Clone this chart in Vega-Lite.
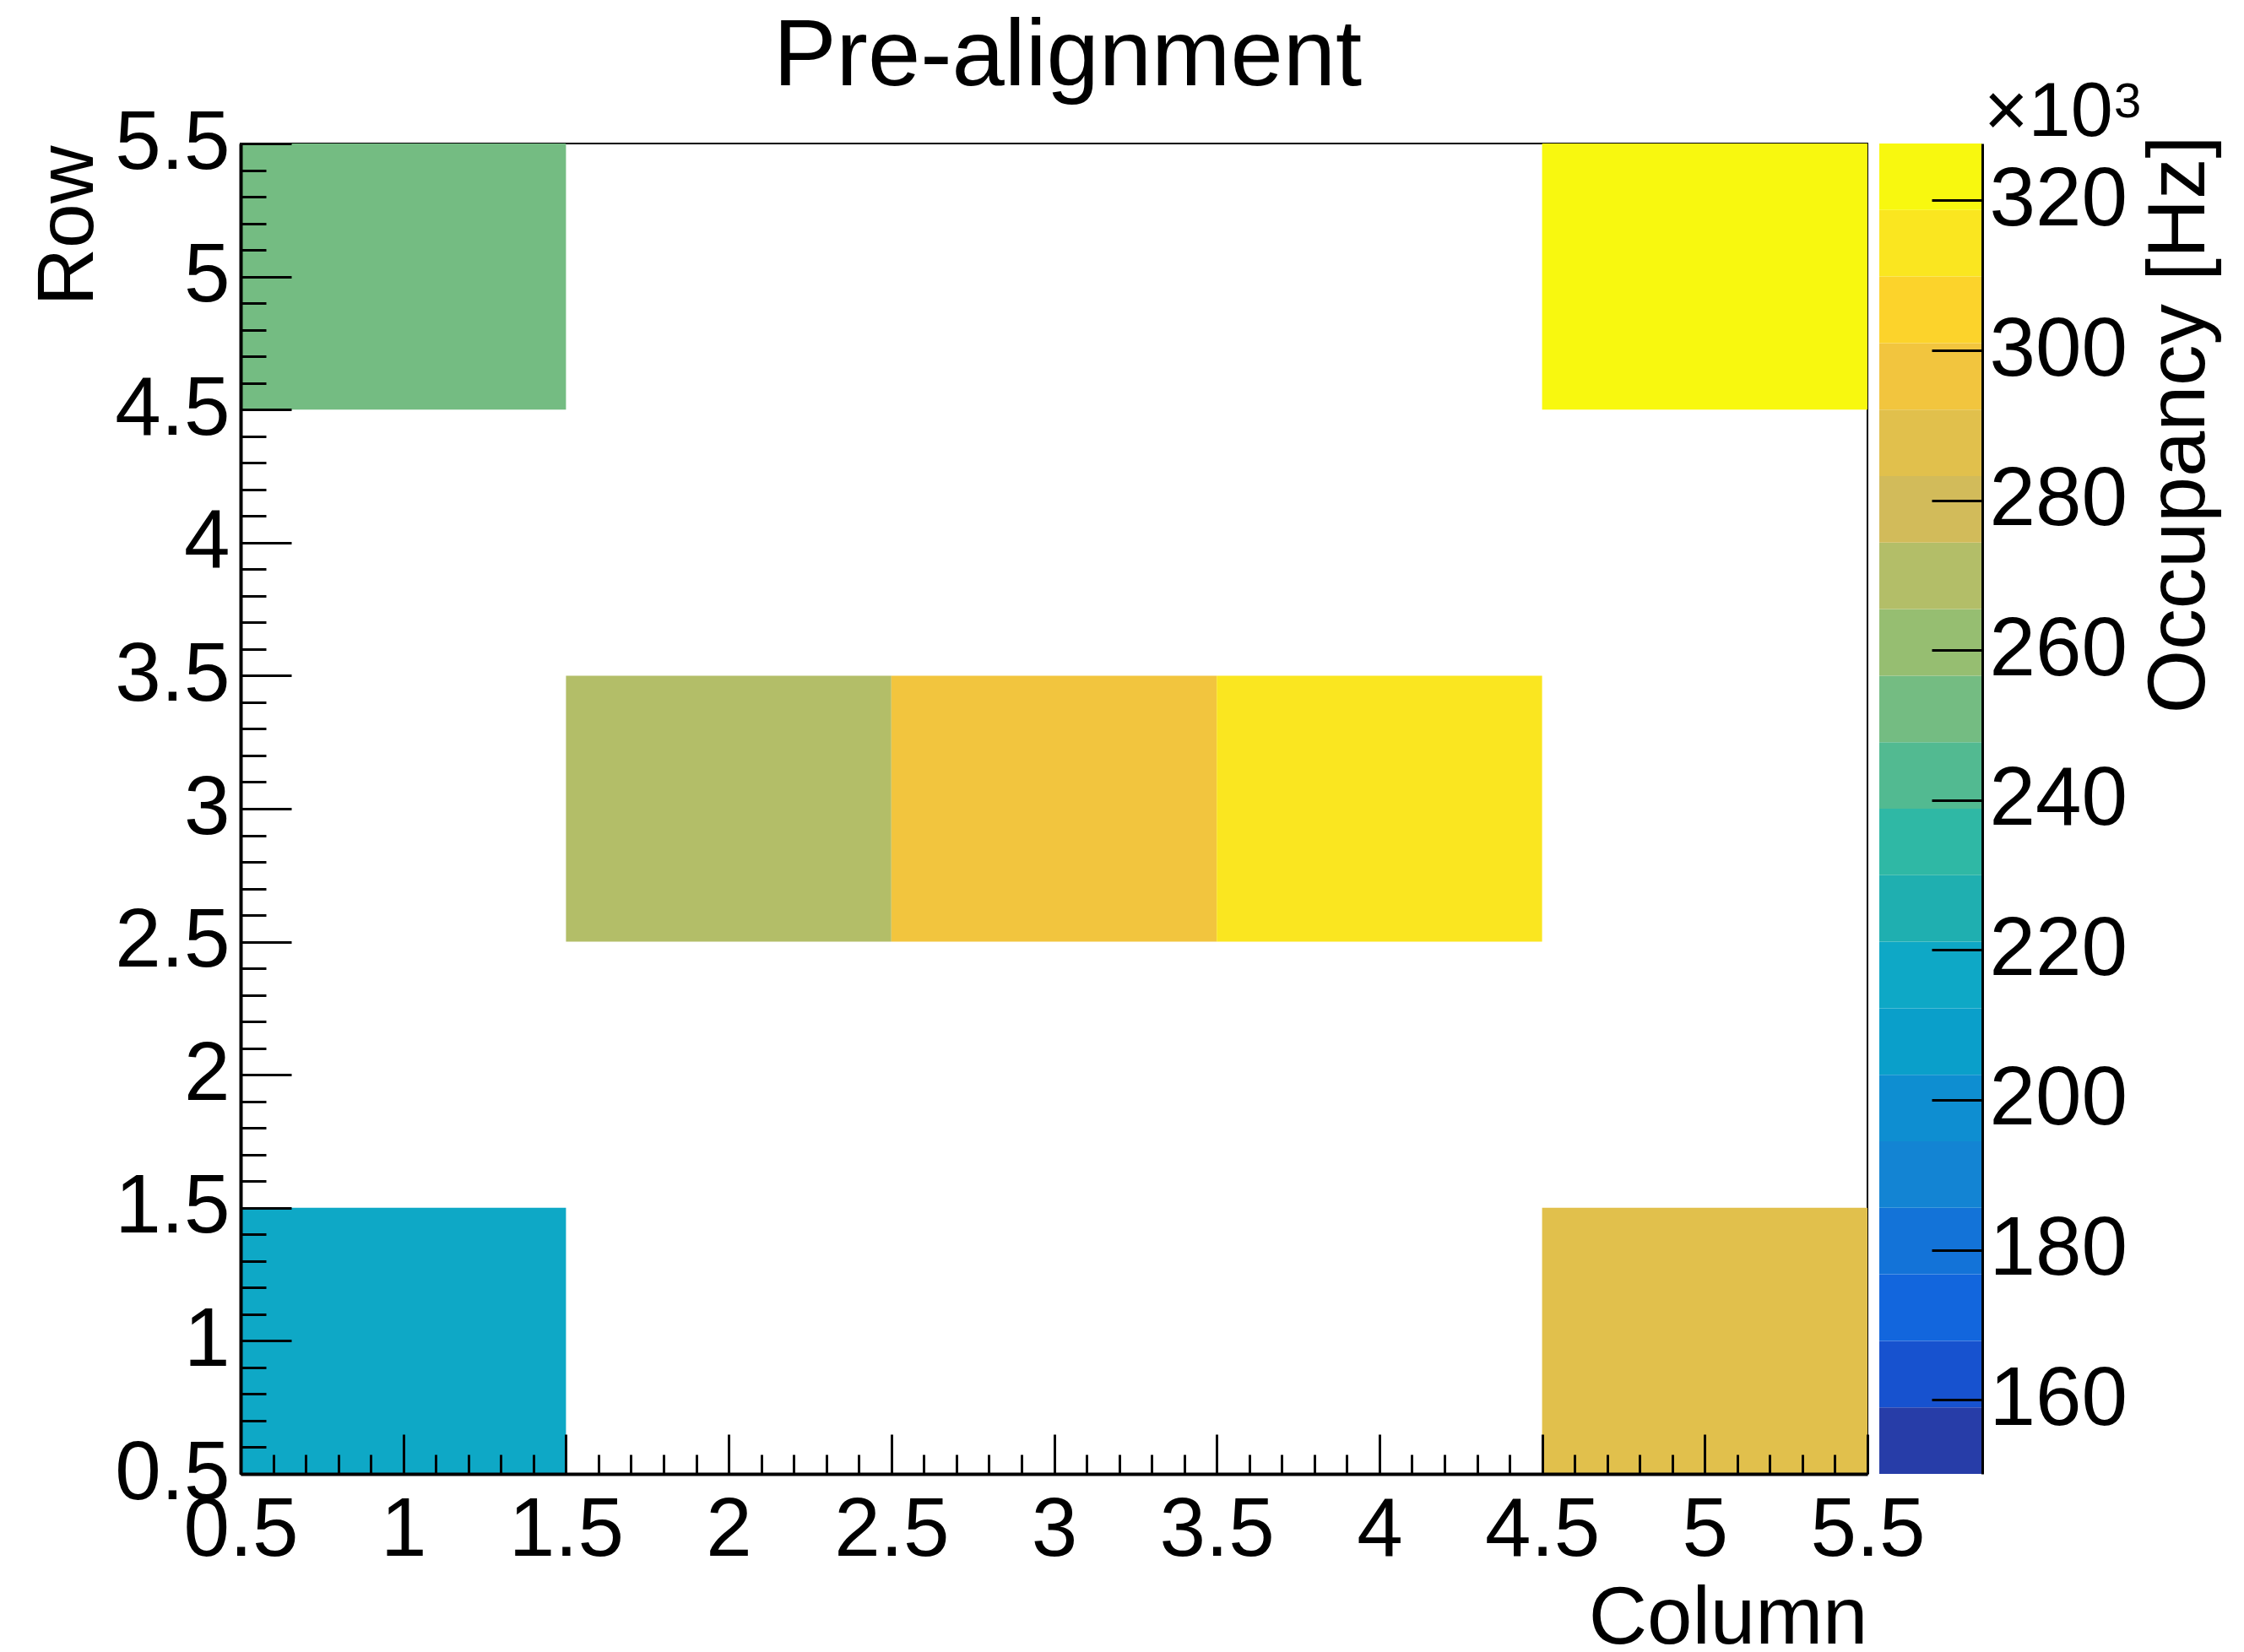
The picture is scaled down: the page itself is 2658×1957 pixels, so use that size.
{
  "$schema": "https://vega.github.io/schema/vega-lite/v6.json",
  "autosize": {"type": "none"},
  "width": 1927,
  "height": 1576,
  "padding": {"left": 285, "top": 170, "right": 446, "bottom": 211},
  "background": "white",
  "title": {"text": "Pre-alignment", "fontSize": 112, "font": "Liberation Sans", "fontWeight": "normal", "color": "black", "anchor": "middle", "dx": 16, "baseline": "alphabetic", "offset": -124},
  "config": {
    "view": {"stroke": "black", "strokeWidth": 2},
    "font": "Liberation Sans",
    "axis": {"grid": false, "zindex": 1, "domainColor": "black", "tickColor": "black", "labelColor": "black", "titleColor": "black", "labelFont": "Liberation Sans", "titleFont": "Liberation Sans", "titleFontWeight": "normal", "labelOverlap": false, "labelFlush": false, "labelBound": false}
  },
  "layer": [
    {
      "data": {"values": [
        {"col_lo": 0.5, "col_hi": 1.5, "row_lo": 0.5, "row_hi": 1.5, "occupancy": 216000},
        {"col_lo": 0.5, "col_hi": 1.5, "row_lo": 4.5, "row_hi": 5.5, "occupancy": 252000},
        {"col_lo": 1.5, "col_hi": 2.5, "row_lo": 2.5, "row_hi": 3.5, "occupancy": 270000},
        {"col_lo": 2.5, "col_hi": 3.5, "row_lo": 2.5, "row_hi": 3.5, "occupancy": 296500},
        {"col_lo": 3.5, "col_hi": 4.5, "row_lo": 2.5, "row_hi": 3.5, "occupancy": 314000},
        {"col_lo": 4.5, "col_hi": 5.5, "row_lo": 4.5, "row_hi": 5.5, "occupancy": 327500},
        {"col_lo": 4.5, "col_hi": 5.5, "row_lo": 0.5, "row_hi": 1.5, "occupancy": 288000}
      ]},
      "mark": {"type": "rect", "stroke": null},
      "encoding": {
        "x": {"field": "col_lo", "type": "quantitative",
          "scale": {"domain": [0.5, 5.5], "nice": false, "zero": false},
          "axis": {
            "title": "Column", "orient": "bottom", "zindex": 2,
            "values": [0.5,0.6,0.7,0.8,0.9,1.0,1.1,1.2,1.3,1.4,1.5,1.6,1.7,1.8,1.9,2.0,2.1,2.2,2.3,2.4,2.5,2.6,2.7,2.8,2.9,3.0,3.1,3.2,3.3,3.4,3.5,3.6,3.7,3.8,3.9,4.0,4.1,4.2,4.3,4.4,4.5,4.6,4.7,4.8,4.9,5.0,5.1,5.2,5.3,5.4,5.5],
            "labelExpr": "abs(datum.value*2 - round(datum.value*2)) < 0.01 ? format(datum.value, '~g') : ''",
            "tickSize": {"condition": {"test": "abs(datum.value*2 - round(datum.value*2)) < 0.01", "value": -47}, "value": -23},
            "tickWidth": 3, "domainWidth": 4,
            "labelFontSize": 98, "labelPadding": 66, "labelBaseline": "top", "labelAlign": "center",
            "titleFontSize": 96, "titleAnchor": "end", "titleAlign": "right", "titleBaseline": "alphabetic", "titleY": 200
          }
        },
        "x2": {"field": "col_hi"},
        "y": {"field": "row_lo", "type": "quantitative",
          "scale": {"domain": [0.5, 5.5], "nice": false, "zero": false},
          "axis": {
            "title": "Row", "orient": "left", "zindex": 2,
            "values": [0.5,0.6,0.7,0.8,0.9,1.0,1.1,1.2,1.3,1.4,1.5,1.6,1.7,1.8,1.9,2.0,2.1,2.2,2.3,2.4,2.5,2.6,2.7,2.8,2.9,3.0,3.1,3.2,3.3,3.4,3.5,3.6,3.7,3.8,3.9,4.0,4.1,4.2,4.3,4.4,4.5,4.6,4.7,4.8,4.9,5.0,5.1,5.2,5.3,5.4,5.5],
            "labelExpr": "abs(datum.value*2 - round(datum.value*2)) < 0.01 ? format(datum.value, '~g') : ''",
            "tickSize": {"condition": {"test": "abs(datum.value*2 - round(datum.value*2)) < 0.01", "value": -60}, "value": -30},
            "tickWidth": 3, "domainWidth": 4,
            "labelFontSize": 98, "labelPadding": 73, "labelBaseline": "middle", "labelAlign": "right",
            "titleFontSize": 95, "titleAngle": 270, "titleAlign": "right", "titleBaseline": "alphabetic", "titleX": -176, "titleY": 2
          }
        },
        "y2": {"field": "row_hi"},
        "color": {"field": "occupancy", "type": "quantitative",
          "scale": {"type": "quantize", "domain": [150100, 327600], "nice": false, "zero": false,
            "range": ["#273DA8","#1752CF","#1266DD","#1373D8","#1384D3","#0E8ED1","#0A9FCA","#0EA8C6","#1FAFB0","#2FB8A5","#52BA91","#74BC82","#96BE71","#B3BE68","#D2BB5A","#E1C04C","#F2C53E","#FCD32B","#FAE620","#F8F80F"]},
          "legend": null}
      }
    },
    {
      "data": {"values": [
        {"band": 0, "lo": 150100, "hi": 158975},
        {"band": 1, "lo": 158975, "hi": 167850},
        {"band": 2, "lo": 167850, "hi": 176725},
        {"band": 3, "lo": 176725, "hi": 185600},
        {"band": 4, "lo": 185600, "hi": 194475},
        {"band": 5, "lo": 194475, "hi": 203350},
        {"band": 6, "lo": 203350, "hi": 212225},
        {"band": 7, "lo": 212225, "hi": 221100},
        {"band": 8, "lo": 221100, "hi": 229975},
        {"band": 9, "lo": 229975, "hi": 238850},
        {"band": 10, "lo": 238850, "hi": 247725},
        {"band": 11, "lo": 247725, "hi": 256600},
        {"band": 12, "lo": 256600, "hi": 265475},
        {"band": 13, "lo": 265475, "hi": 274350},
        {"band": 14, "lo": 274350, "hi": 283225},
        {"band": 15, "lo": 283225, "hi": 292100},
        {"band": 16, "lo": 292100, "hi": 300975},
        {"band": 17, "lo": 300975, "hi": 309850},
        {"band": 18, "lo": 309850, "hi": 318725},
        {"band": 19, "lo": 318725, "hi": 327600}
      ]},
      "layer": [
        {
          "mark": {"type": "rect", "stroke": null},
          "encoding": {
            "x": {"datum": 0, "type": "quantitative", "scale": {"domain": [-15.91, -0.115], "nice": false, "zero": false}, "axis": null},
            "x2": {"datum": 1},
            "y": {"field": "lo", "type": "quantitative",
              "scale": {"domain": [150100, 327600], "nice": false, "zero": false},
              "axis": {
                "title": "Occupancy [Hz]", "orient": "right", "offset": 136, "zindex": 2,
                "values": [160000, 180000, 200000, 220000, 240000, 260000, 280000, 300000, 320000],
                "labelExpr": "format(datum.value/1000, 'd')",
                "tickSize": -60, "tickWidth": 3, "domainWidth": 3,
                "labelFontSize": 98, "labelPadding": 68, "labelBaseline": "middle", "labelAlign": "left",
                "titleFontSize": 97, "titleAngle": 270, "titleAlign": "right", "titleBaseline": "alphabetic", "titleX": 262, "titleY": -10
              }
            },
            "y2": {"field": "hi"},
            "color": {"field": "band", "type": "ordinal",
              "scale": {"domain": [0,1,2,3,4,5,6,7,8,9,10,11,12,13,14,15,16,17,18,19],
                "range": ["#273DA8","#1752CF","#1266DD","#1373D8","#1384D3","#0E8ED1","#0A9FCA","#0EA8C6","#1FAFB0","#2FB8A5","#52BA91","#74BC82","#96BE71","#B3BE68","#D2BB5A","#E1C04C","#F2C53E","#FCD32B","#FAE620","#F8F80F"]},
              "legend": null}
          }
        },
        {
          "data": {"values": [{"label": "×10"}]},
          "mark": {"type": "text", "align": "left", "baseline": "alphabetic", "fontSize": 90, "font": "Liberation Sans", "color": "black", "dy": -9, "dx": 2},
          "encoding": {
            "x": {"datum": 1, "type": "quantitative"},
            "y": {"datum": 327600, "type": "quantitative"},
            "text": {"field": "label"}
          }
        },
        {
          "data": {"values": [{"label": "3"}]},
          "mark": {"type": "text", "align": "left", "baseline": "alphabetic", "fontSize": 58, "font": "Liberation Sans", "color": "black", "dy": -31, "dx": 156},
          "encoding": {
            "x": {"datum": 1, "type": "quantitative"},
            "y": {"datum": 327600, "type": "quantitative"},
            "text": {"field": "label"}
          }
        }
      ]
    }
  ],
  "resolve": {
    "scale": {"x": "independent", "y": "independent", "color": "independent"},
    "axis": {"x": "independent", "y": "independent"}
  }
}
